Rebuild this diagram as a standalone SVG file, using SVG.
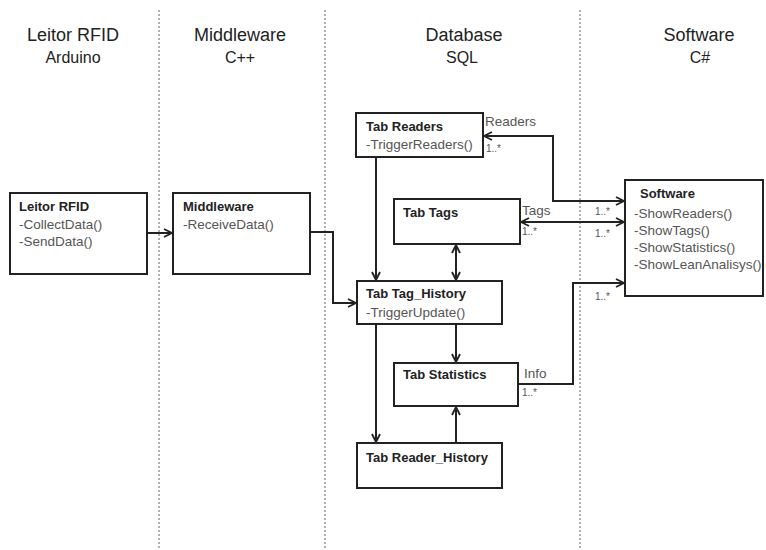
<svg xmlns="http://www.w3.org/2000/svg" width="766" height="550" viewBox="0 0 766 550">
  <style>
    .lane { stroke: #888; stroke-width: 1.3; stroke-dasharray: 2 2; fill: none; }
    .hdr { font-family: "Liberation Sans", Arial, sans-serif; font-size: 18px; fill: #222; text-anchor: middle; }
    .sub { font-family: "Liberation Sans", Arial, sans-serif; font-size: 16px; fill: #222; text-anchor: middle; }
    .box { fill: #fff; stroke: #222; stroke-width: 2; }
    .ttl { font-family: "Liberation Sans", Arial, sans-serif; font-size: 13px; font-weight: bold; fill: #222; }
    .mth { font-family: "Liberation Sans", Arial, sans-serif; font-size: 13.5px; fill: #555; }
    .lbl { font-family: "Liberation Sans", Arial, sans-serif; font-size: 13.5px; fill: #555; }
    .mul { font-family: "Liberation Sans", Arial, sans-serif; font-size: 10px; fill: #555; }
    .wire { fill: none; stroke: #222; stroke-width: 2; }
  </style>
  <defs>
    <marker id="arrow" viewBox="0 0 10 10" refX="9" refY="5" markerWidth="10" markerHeight="10" markerUnits="userSpaceOnUse" orient="auto-start-reverse">
      <path d="M1,1 L9,5 L1,9" fill="none" stroke="#222" stroke-width="1.8"/>
    </marker>
  </defs>

  <!-- swimlane separators -->
  <g id="lanes">
    <line class="lane" x1="159" y1="10" x2="159" y2="548"/>
    <line class="lane" x1="325" y1="10" x2="325" y2="548"/>
    <line class="lane" x1="580" y1="10" x2="580" y2="548"/>
  </g>

  <!-- lane headers -->
  <g id="headers">
    <text class="hdr" x="73" y="41">Leitor RFID</text>
    <text class="sub" x="73" y="63">Arduino</text>
    <text class="hdr" x="240" y="41">Middleware</text>
    <text class="sub" x="240" y="63">C++</text>
    <text class="hdr" x="464" y="41">Database</text>
    <text class="sub" x="462" y="63">SQL</text>
    <text class="hdr" x="699" y="41">Software</text>
    <text class="sub" x="700" y="63">C#</text>
  </g>

  <!-- connectors -->
  <g id="connectors">
    <path class="wire" d="M147,233 H172" marker-end="url(#arrow)"/>
    <path class="wire" d="M310,232 H333 V303 H356" marker-end="url(#arrow)"/>
    <path class="wire" d="M484,136 H553 V201 H624" marker-start="url(#arrow)" marker-end="url(#arrow)"/>
    <path class="wire" d="M521,222 H624" marker-start="url(#arrow)" marker-end="url(#arrow)"/>
    <path class="wire" d="M376,157 V280" marker-end="url(#arrow)"/>
    <path class="wire" d="M456,245 V280" marker-start="url(#arrow)" marker-end="url(#arrow)"/>
    <path class="wire" d="M456,324 V362" marker-end="url(#arrow)"/>
    <path class="wire" d="M376,324 V442" marker-end="url(#arrow)"/>
    <path class="wire" d="M456,443 V407" marker-end="url(#arrow)"/>
    <path class="wire" d="M518,384 H573 V283 H624" marker-end="url(#arrow)"/>
  </g>

  <!-- connector labels -->
  <g id="connector-labels">
    <text class="lbl" x="485" y="126">Readers</text>
    <text class="mul" x="486" y="152">1..*</text>
    <text class="lbl" x="522" y="215">Tags</text>
    <text class="mul" x="522" y="235">1..*</text>
    <text class="lbl" x="524" y="378">Info</text>
    <text class="mul" x="522" y="396">1..*</text>
    <text class="mul" x="595" y="215">1..*</text>
    <text class="mul" x="595" y="237">1..*</text>
    <text class="mul" x="595" y="300">1..*</text>
  </g>

  <g id="leitor-rfid">
    <rect class="box" x="10" y="193" width="137" height="81"/>
    <text class="ttl" x="19" y="211">Leitor RFID</text>
    <text class="mth" x="19" y="229">-CollectData()</text>
    <text class="mth" x="19" y="246">-SendData()</text>
  </g>

  <g id="middleware">
    <rect class="box" x="173" y="193" width="137" height="81"/>
    <text class="ttl" x="183" y="211">Middleware</text>
    <text class="mth" x="183" y="229">-ReceiveData()</text>
  </g>

  <g id="tab-readers">
    <rect class="box" x="356" y="113" width="127" height="44"/>
    <text class="ttl" x="366" y="131">Tab Readers</text>
    <text class="mth" x="366" y="149">-TriggerReaders()</text>
  </g>

  <g id="tab-tags">
    <rect class="box" x="394" y="199" width="126" height="45"/>
    <text class="ttl" x="403" y="217">Tab Tags</text>
  </g>

  <g id="tab-tag-history">
    <rect class="box" x="357" y="281" width="145" height="43"/>
    <text class="ttl" x="366" y="298">Tab Tag_History</text>
    <text class="mth" x="366" y="317">-TriggerUpdate()</text>
  </g>

  <g id="tab-statistics">
    <rect class="box" x="394" y="363" width="124" height="43"/>
    <text class="ttl" x="403" y="379">Tab Statistics</text>
  </g>

  <g id="tab-reader-history">
    <rect class="box" x="357" y="443" width="145" height="45"/>
    <text class="ttl" x="366" y="462">Tab Reader_History</text>
  </g>

  <g id="software">
    <rect class="box" x="625" y="180" width="138" height="116"/>
    <text class="ttl" x="640" y="198">Software</text>
    <text class="mth" x="634" y="218">-ShowReaders()</text>
    <text class="mth" x="634" y="235">-ShowTags()</text>
    <text class="mth" x="634" y="252">-ShowStatistics()</text>
    <text class="mth" x="634" y="269">-ShowLeanAnalisys()</text>
  </g>
</svg>
